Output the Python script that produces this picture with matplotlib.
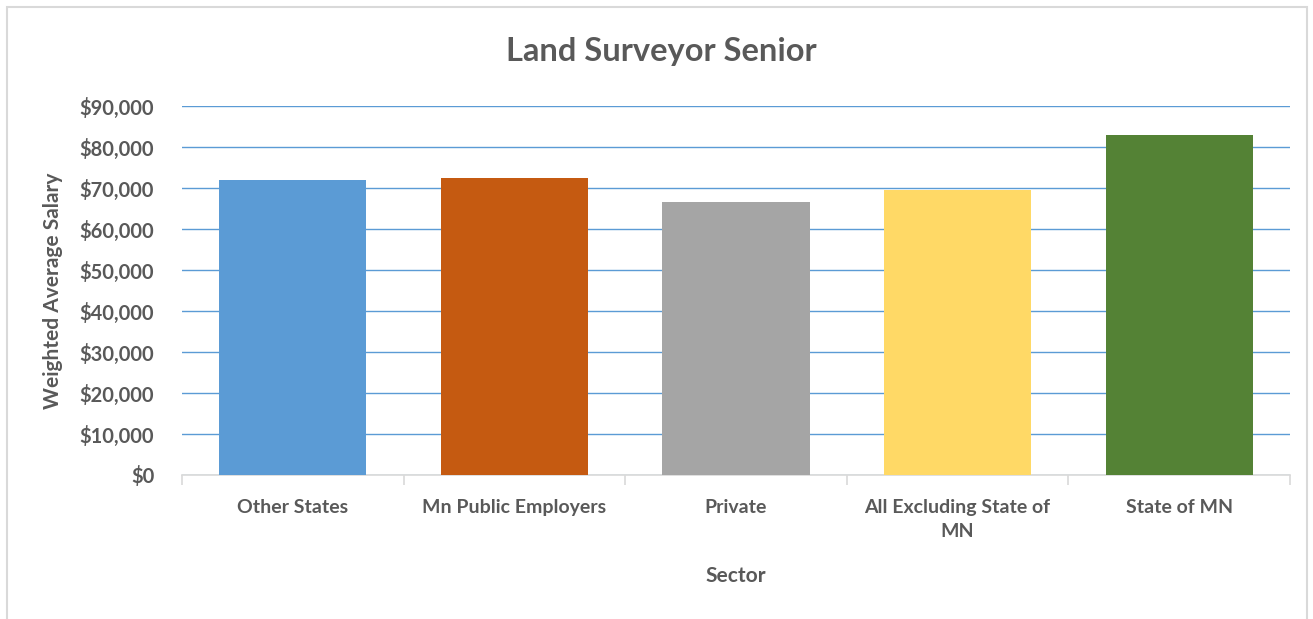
import matplotlib
matplotlib.use("Agg")
import matplotlib.pyplot as plt
from matplotlib.patches import Rectangle
from matplotlib.ticker import FuncFormatter, MultipleLocator

plt.rcParams['font.family'] = ['Lato', 'DejaVu Sans']

# Chart data
sectors = ["Other States", "Mn Public Employers", "Private",
           "All Excluding State of\nMN", "State of MN"]
salaries = [72000, 72500, 66500, 69500, 83000]
bar_colors = ["#5B9BD5", "#C55A11", "#A5A5A5", "#FFD966", "#548235"]

TEXT = "#595959"
W, H = 1313, 619

fig = plt.figure(figsize=(W / 100, H / 100), dpi=100)
ax = fig.add_axes([182 / W, 1 - 475 / H, (1290 - 182) / W, (475 - 106) / H])

x = range(len(sectors))
ax.bar(x, salaries, width=0.665, color=bar_colors, zorder=3)

ax.set_xlim(-0.5, len(sectors) - 0.5)
ax.set_ylim(0, 90000)
ax.yaxis.set_major_locator(MultipleLocator(10000))
ax.yaxis.set_major_formatter(FuncFormatter(lambda v, p: f"${v:,.0f}"))
ax.grid(axis="y", color="#5B9BD5", linewidth=1.0, zorder=0)

for side in ("top", "right", "left"):
    ax.spines[side].set_visible(False)
ax.spines["bottom"].set_color("#D9D9D9")
ax.spines["bottom"].set_linewidth(1.2)

# category labels, with tick marks on category boundaries
ax.set_xticks(list(x))
ax.set_xticklabels(sectors, fontsize=14, fontweight="bold", color=TEXT,
                   linespacing=1.5)
ax.tick_params(axis="x", length=0, pad=17)
ax.set_xticks([i - 0.5 for i in range(len(sectors) + 1)], minor=True)
ax.tick_params(axis="x", which="minor", length=7, color="#D9D9D9", width=1.2)
ax.tick_params(axis="y", length=0, pad=20, labelsize=14.5, labelcolor=TEXT)
for lbl in ax.get_yticklabels():
    lbl.set_fontweight("bold")

ax.set_xlabel("Sector", fontsize=15, fontweight="bold", color=TEXT, labelpad=19)
ax.set_ylabel("Weighted Average Salary", fontsize=15, fontweight="bold",
              color=TEXT, labelpad=12)

fig.text(661 / W, 1 - 52 / H, "Land Surveyor Senior",
         ha="center", va="center", fontsize=23.5, fontweight="bold", color=TEXT)

# outer chart frame
fig.patches.append(Rectangle((7 / W, -0.01), (1307 - 7) / W, 1 - 7 / H + 0.01,
                             transform=fig.transFigure, fill=False,
                             edgecolor="#D9D9D9", linewidth=1.5))

fig.savefig("out.png", dpi=100, facecolor="white")
